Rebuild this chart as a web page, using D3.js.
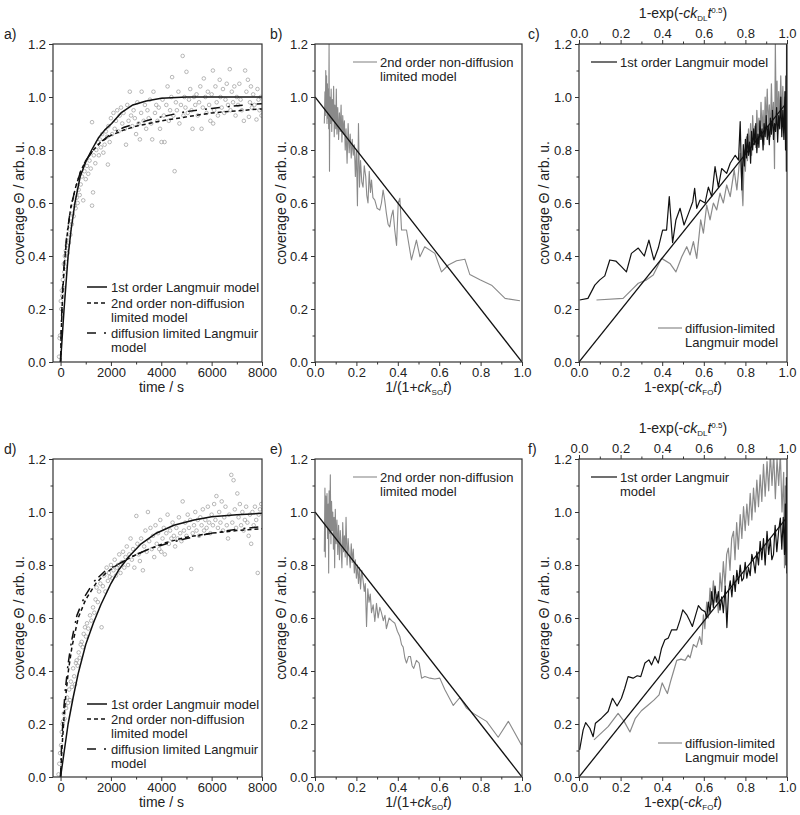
<!DOCTYPE html>
<html><head><meta charset="utf-8">
<script src="https://cdn.jsdelivr.net/npm/d3@7/dist/d3.min.js"></script>
<style>
body{margin:0;background:#fff}
text{font-family:"Liberation Sans",Arial,sans-serif;fill:#222}
</style>
</head><body>
<svg id="chart" width="800" height="815"></svg>
<script>
// ---------------- DATA ----------------
const timeTicks = [0, 2000, 4000, 6000, 8000];
const timeMinor = [1000, 3000, 5000, 7000];
const unitTicks = [0, 0.2, 0.4, 0.6, 0.8, 1.0];
const unitMinor = [0.1, 0.3, 0.5, 0.7, 0.9];
const coverageTicks = [0, 0.2, 0.4, 0.6, 0.8, 1.0, 1.2];
const coverageMinor = [0.1, 0.3, 0.5, 0.7, 0.9, 1.1];

// panel a: measured coverage (time s, theta)
const aScatter = [[-60,0.02],[-40,0.09],[-20,0.1],[10,0.23],[30,0.2],[50,0.27],[70,0.25],[90,0.31],[110,0.28],[130,0.37],[150,0.34],[170,0.4],[190,0.36],[210,0.42],[230,0.39],[250,0.44],[280,0.41],[300,0.47],[330,0.45],[360,0.5],[390,0.48],[420,0.53],[450,0.52],[480,0.56],[520,0.55],[560,0.59],[600,0.58],[640,0.62],[680,0.6],[720,0.65],[760,0.63],[800,0.67],[850,0.7],[900,0.61],[950,0.72],[1000,0.69],[1050,0.74],[1100,0.71],[1150,0.76],[1200,0.73],[1250,0.59],[1290,0.64],[1250,0.905],[1320,0.78],[1380,0.75],[1420,0.8],[1480,0.83],[1520,0.78],[1560,0.84],[1600,0.81],[1650,0.86],[1700,0.79],[1750,0.82],[1800,0.87],[1880,0.745],[1850,0.85],[1900,0.89],[1950,0.83],[2000,0.92],[2050,0.86],[2100,0.94],[2150,0.88],[2200,0.91],[2250,0.95],[2300,0.87],[2350,0.93],[2400,0.96],[2450,0.9],[2500,0.94],[2550,0.88],[2600,0.82],[2650,0.97],[2700,0.91],[2750,1.02],[2800,0.93],[2850,0.89],[2900,0.95],[2950,0.92],[3000,0.86],[3050,0.98],[3100,0.9],[3150,0.84],[3200,0.94],[3220,1.02],[3300,0.91],[3350,0.97],[3400,0.88],[3450,0.95],[3500,0.92],[3550,0.99],[3600,0.9],[3640,0.84],[3690,1.02],[3750,0.94],[3800,0.97],[3850,0.91],[3900,0.96],[3950,0.88],[4010,0.83],[4050,0.99],[4100,0.93],[4130,0.83],[4200,0.97],[4250,1.04],[4300,0.91],[4350,0.95],[4400,1.0],[4430,1.075],[4480,0.93],[4530,0.72],[4580,0.98],[4620,0.95],[4680,1.02],[4720,0.9],[4780,0.97],[4850,1.155],[4880,0.93],[4920,1.0],[4960,0.96],[5000,1.095],[5050,0.94],[5100,0.99],[5150,1.03],[5200,0.95],[5240,0.88],[5300,1.0],[5350,0.97],[5400,1.01],[5450,0.93],[5500,0.98],[5550,1.04],[5600,0.88],[5650,0.96],[5690,1.07],[5750,1.0],[5800,0.94],[5850,1.02],[5900,0.97],[5950,0.91],[6000,1.01],[6050,1.1],[6060,0.9],[6100,0.95],[6150,1.04],[6200,0.98],[6250,0.93],[6320,1.065],[6350,1.0],[6400,0.96],[6450,1.03],[6500,0.94],[6550,0.99],[6600,1.05],[6650,0.97],[6720,1.105],[6750,0.95],[6800,1.02],[6850,0.98],[6900,1.04],[6950,0.93],[7000,1.0],[7050,0.97],[7100,1.05],[7150,0.99],[7200,0.95],[7280,0.91],[7330,1.1],[7380,1.02],[7440,1.065],[7480,0.925],[7520,0.98],[7560,1.04],[7600,0.96],[7650,1.01],[7700,0.97],[7780,0.915],[7820,1.03],[7860,0.99],[7900,0.95],[7950,1.0],[7980,0.93]];
const aFirstOrder = [[0,0],[70,0.1],[140,0.2],[220,0.3],[300,0.4],[420,0.5],[570,0.6],[780,0.7],[1000,0.755],[1235,0.8],[1500,0.845],[1750,0.875],[2030,0.9],[2400,0.94],[2870,0.97],[3400,0.985],[4000,0.995],[5000,1.0],[8000,1.0]];
const aSecondOrder = [[0,0],[30,0.12],[80,0.25],[150,0.37],[250,0.47],[400,0.58],[600,0.66],[800,0.72],[1000,0.76],[1300,0.8],[1600,0.83],[2000,0.855],[2500,0.875],[3000,0.89],[4000,0.91],[5000,0.925],[6000,0.94],[7000,0.948],[8000,0.955]];
const aDiffusion = [[0,0],[30,0.14],[80,0.27],[150,0.38],[250,0.48],[400,0.58],[600,0.66],[800,0.72],[1000,0.76],[1300,0.8],[1600,0.83],[2000,0.86],[2500,0.885],[3000,0.9],[4000,0.925],[5000,0.945],[6000,0.957],[7000,0.967],[8000,0.975]];

// panel d
const dScatter = [[-80,0.01],[-50,0.05],[-20,0.09],[20,0.12],[47,0.17],[80,0.2],[100,0.21],[130,0.24],[160,0.22],[190,0.27],[220,0.26],[260,0.3],[300,0.28],[340,0.33],[375,0.29],[410,0.36],[450,0.34],[500,0.41],[540,0.38],[575,0.35],[610,0.43],[640,0.44],[680,0.42],[720,0.47],[760,0.45],[800,0.5],[840,0.51],[880,0.49],[920,0.54],[970,0.565],[1010,0.53],[1050,0.58],[1100,0.56],[1170,0.61],[1220,0.59],[1290,0.64],[1340,0.62],[1390,0.67],[1430,0.715],[1480,0.66],[1530,0.7],[1580,0.73],[1630,0.565],[1680,0.72],[1730,0.76],[1780,0.7],[1830,0.79],[1880,0.74],[1920,0.77],[1960,0.755],[2000,0.8],[2050,0.75],[2100,0.78],[2150,0.82],[2200,0.76],[2240,0.79],[2280,0.8],[2330,0.84],[2380,0.77],[2430,0.81],[2480,0.85],[2530,0.79],[2580,0.83],[2630,0.87],[2680,0.8],[2730,0.84],[2780,0.9],[2830,0.82],[2880,0.86],[2930,0.79],[3010,0.985],[3050,0.88],[3100,0.84],[3150,0.815],[3200,0.9],[3270,0.78],[3320,0.87],[3370,0.93],[3420,0.85],[3470,1.0],[3520,0.89],[3570,0.94],[3620,0.86],[3670,0.91],[3720,0.83],[3770,0.95],[3820,0.88],[3870,0.92],[3920,0.86],[3960,0.97],[4000,0.85],[4050,0.9],[4100,0.94],[4140,0.84],[4200,0.92],[4250,0.99],[4300,0.88],[4350,0.93],[4400,0.9],[4450,0.96],[4500,0.91],[4550,0.87],[4600,0.94],[4650,0.9],[4700,0.98],[4750,0.92],[4800,0.89],[4850,1.04],[4900,0.93],[4950,0.96],[5000,0.91],[5050,0.99],[5100,0.94],[5150,0.97],[5190,0.785],[5250,0.92],[5300,0.95],[5350,1.0],[5400,0.93],[5450,0.97],[5500,0.91],[5550,0.98],[5600,0.95],[5650,1.01],[5700,0.93],[5750,0.97],[5800,0.94],[5850,1.02],[5900,0.96],[5950,0.92],[6000,0.99],[6050,0.95],[6100,1.03],[6150,0.97],[6190,1.06],[6250,0.94],[6300,1.0],[6350,0.96],[6400,1.04],[6450,0.93],[6500,0.98],[6550,1.02],[6600,0.95],[6650,0.9],[6700,0.99],[6780,1.14],[6820,0.96],[6870,1.12],[6920,1.01],[6970,0.94],[7020,1.07],[7070,0.98],[7120,1.03],[7170,0.95],[7220,1.0],[7270,0.93],[7320,0.97],[7370,1.02],[7420,0.96],[7470,0.91],[7520,0.99],[7570,0.88],[7620,1.0],[7670,0.95],[7720,1.02],[7770,0.97],[7830,0.77],[7870,0.99],[7920,1.01],[7970,1.03]];
const dFirstOrder = [[0,0],[150,0.1],[300,0.2],[500,0.3],[700,0.39],[1000,0.5],[1300,0.58],[1600,0.65],[2000,0.73],[2300,0.78],[2700,0.83],[3200,0.88],[3800,0.92],[4500,0.95],[5300,0.97],[6000,0.982],[7000,0.99],[8000,0.995]];
const dSecondOrder = [[0,0],[50,0.1],[120,0.2],[200,0.3],[310,0.4],[450,0.49],[700,0.6],[1000,0.67],[1400,0.73],[1800,0.77],[2240,0.8],[2800,0.83],[3500,0.86],[4200,0.885],[5000,0.905],[6000,0.92],[7000,0.93],[8000,0.937]];
const dDiffusion = [[0,0],[40,0.12],[100,0.22],[180,0.32],[290,0.42],[430,0.51],[650,0.61],[950,0.68],[1350,0.74],[1800,0.78],[2240,0.8],[2800,0.83],[3500,0.86],[4200,0.88],[5000,0.9],[6000,0.92],[7000,0.935],[8000,0.945]];

// panel b / e : theta vs 1/(1+ck_SO t)
const bData = [[0.045,0.9],[0.048,1.02],[0.05,0.93],[0.052,1.1],[0.054,0.95],[0.056,1.08],[0.058,0.9],[0.06,1.05],[0.062,0.92],[0.064,1.03],[0.066,0.88],[0.068,1.2],[0.07,0.72],[0.072,1.0],[0.075,0.9],[0.078,1.03],[0.081,0.87],[0.084,0.99],[0.087,0.91],[0.09,1.04],[0.093,0.85],[0.096,0.97],[0.1,0.88],[0.103,1.03],[0.106,0.86],[0.11,0.96],[0.114,0.84],[0.118,0.94],[0.122,0.87],[0.126,0.97],[0.13,0.83],[0.134,0.93],[0.138,0.86],[0.142,0.91],[0.146,0.8],[0.15,0.88],[0.155,0.75],[0.16,0.9],[0.165,0.79],[0.17,0.86],[0.175,0.77],[0.18,0.84],[0.185,0.78],[0.19,0.82],[0.195,0.7],[0.2,0.8],[0.205,0.59],[0.21,0.9],[0.215,0.66],[0.22,0.76],[0.226,0.68],[0.232,0.66],[0.238,0.74],[0.245,0.7],[0.25,0.63],[0.256,0.6],[0.262,0.72],[0.268,0.64],[0.273,0.687],[0.28,0.62],[0.289,0.611],[0.3,0.58],[0.313,0.573],[0.321,0.6],[0.329,0.649],[0.337,0.61],[0.345,0.56],[0.353,0.52],[0.361,0.51],[0.369,0.55],[0.377,0.573],[0.385,0.5],[0.394,0.44],[0.402,0.6],[0.41,0.618],[0.418,0.498],[0.442,0.498],[0.466,0.385],[0.49,0.46],[0.507,0.397],[0.53,0.435],[0.579,0.41],[0.611,0.34],[0.644,0.366],[0.684,0.382],[0.724,0.388],[0.748,0.33],[0.797,0.31],[0.853,0.29],[0.918,0.24],[0.99,0.231]];
const bFit = [[0,1],[1,0]];
const eData = [[0.045,0.85],[0.048,1.09],[0.05,0.83],[0.052,1.06],[0.055,0.95],[0.058,1.07],[0.061,0.9],[0.064,1.03],[0.066,0.77],[0.068,1.08],[0.071,0.92],[0.074,1.14],[0.077,0.88],[0.08,1.04],[0.083,0.93],[0.086,1.0],[0.089,0.86],[0.092,0.98],[0.095,0.79],[0.098,1.01],[0.102,0.88],[0.106,0.97],[0.11,0.84],[0.114,0.95],[0.118,0.82],[0.122,0.93],[0.126,0.87],[0.13,0.79],[0.134,0.96],[0.138,0.85],[0.142,0.91],[0.146,0.83],[0.15,0.98],[0.155,0.8],[0.16,0.9],[0.165,0.84],[0.17,0.79],[0.175,0.88],[0.18,0.81],[0.185,0.86],[0.19,0.77],[0.195,0.82],[0.2,0.75],[0.205,0.8],[0.21,0.73],[0.215,0.79],[0.22,0.71],[0.226,0.78],[0.232,0.744],[0.238,0.7],[0.243,0.73],[0.249,0.568],[0.255,0.71],[0.261,0.66],[0.267,0.69],[0.273,0.62],[0.281,0.65],[0.289,0.587],[0.297,0.655],[0.305,0.6],[0.313,0.64],[0.321,0.62],[0.33,0.59],[0.338,0.61],[0.345,0.56],[0.358,0.6],[0.37,0.59],[0.386,0.58],[0.398,0.55],[0.41,0.53],[0.418,0.5],[0.426,0.49],[0.434,0.45],[0.442,0.43],[0.452,0.455],[0.461,0.455],[0.469,0.42],[0.477,0.41],[0.49,0.44],[0.503,0.43],[0.515,0.373],[0.531,0.379],[0.555,0.373],[0.579,0.37],[0.603,0.373],[0.627,0.33],[0.668,0.27],[0.7,0.3],[0.732,0.26],[0.765,0.24],[0.829,0.21],[0.885,0.15],[0.934,0.21],[0.998,0.12]];
const eFit = [[0,1],[1,0]];

// panel c / f : black = 1st order (bottom axis), gray = diffusion-limited (top axis)
const cFirst = [[0.003,0.234],[0.043,0.24],[0.076,0.29],[0.1,0.31],[0.124,0.325],[0.148,0.385],[0.177,0.381],[0.204,0.36],[0.228,0.34],[0.252,0.41],[0.285,0.43],[0.314,0.4],[0.336,0.46],[0.36,0.385],[0.381,0.43],[0.402,0.498],[0.421,0.498],[0.434,0.624],[0.45,0.45],[0.466,0.536],[0.486,0.58],[0.505,0.517],[0.526,0.56],[0.547,0.605],[0.556,0.655],[0.566,0.58],[0.582,0.611],[0.606,0.6],[0.622,0.66],[0.638,0.624],[0.654,0.737],[0.67,0.66],[0.686,0.73],[0.71,0.712],[0.727,0.75],[0.751,0.78],[0.767,0.762],[0.775,0.907],[0.783,0.649],[0.79,0.82],[0.795,0.74],[0.8,0.84],[0.805,0.77],[0.81,0.86],[0.815,0.78],[0.82,0.83],[0.825,0.75],[0.83,0.87],[0.835,0.8],[0.84,0.88],[0.845,0.82],[0.85,0.9],[0.855,0.79],[0.86,0.86],[0.865,0.81],[0.87,0.91],[0.875,0.84],[0.88,0.88],[0.885,0.8],[0.89,0.9],[0.895,0.85],[0.9,0.93],[0.905,0.84],[0.91,0.89],[0.915,0.82],[0.92,0.92],[0.925,0.86],[0.93,0.95],[0.935,0.84],[0.94,0.9],[0.945,0.87],[0.95,0.96],[0.955,0.83],[0.96,0.93],[0.965,0.88],[0.97,1.0],[0.975,0.85],[0.98,0.95],[0.985,0.84],[0.99,1.02],[0.993,0.8],[0.995,1.08],[0.997,0.72],[0.998,1.2],[0.999,0.85],[1.0,1.2],[1.0,0.72]];
const cDiffusion = [[0.084,0.234],[0.212,0.24],[0.253,0.272],[0.285,0.297],[0.325,0.31],[0.357,0.328],[0.397,0.391],[0.437,0.372],[0.466,0.34],[0.494,0.397],[0.518,0.435],[0.534,0.404],[0.55,0.454],[0.566,0.391],[0.585,0.536],[0.598,0.486],[0.614,0.592],[0.63,0.536],[0.646,0.6],[0.662,0.574],[0.678,0.637],[0.694,0.6],[0.71,0.668],[0.727,0.624],[0.746,0.725],[0.759,0.649],[0.775,0.787],[0.788,0.59],[0.795,0.8],[0.8,0.72],[0.805,0.85],[0.81,0.76],[0.815,0.88],[0.82,0.8],[0.825,0.9],[0.83,0.78],[0.835,0.93],[0.84,0.83],[0.845,0.89],[0.85,0.81],[0.855,0.95],[0.86,0.85],[0.865,0.92],[0.87,0.84],[0.875,0.98],[0.88,0.87],[0.885,0.95],[0.89,0.82],[0.895,1.0],[0.9,0.9],[0.905,1.03],[0.91,0.88],[0.915,0.97],[0.92,0.85],[0.925,1.05],[0.93,0.9],[0.935,0.98],[0.94,0.73],[0.944,1.2],[0.948,0.9],[0.952,1.06],[0.956,0.88],[0.96,1.02],[0.965,0.91],[0.97,1.08],[0.975,0.92],[0.98,1.04],[0.985,0.89],[0.99,1.0],[0.995,0.93]];
const cFit = [[0,0],[1,0.98]];
const fFirst = [[0.003,0.102],[0.02,0.178],[0.032,0.205],[0.052,0.184],[0.068,0.152],[0.079,0.203],[0.108,0.222],[0.14,0.247],[0.161,0.297],[0.183,0.268],[0.204,0.297],[0.22,0.335],[0.236,0.379],[0.26,0.373],[0.28,0.382],[0.297,0.379],[0.317,0.43],[0.336,0.442],[0.349,0.423],[0.365,0.455],[0.381,0.43],[0.397,0.486],[0.413,0.518],[0.429,0.524],[0.445,0.555],[0.47,0.555],[0.486,0.593],[0.499,0.631],[0.518,0.612],[0.53,0.593],[0.545,0.568],[0.561,0.612],[0.574,0.647],[0.59,0.631],[0.606,0.624],[0.614,0.6],[0.622,0.66],[0.63,0.62],[0.638,0.7],[0.646,0.64],[0.654,0.72],[0.662,0.66],[0.67,0.7],[0.678,0.63],[0.686,0.68],[0.694,0.62],[0.703,0.72],[0.711,0.564],[0.719,0.7],[0.727,0.74],[0.735,0.68],[0.743,0.76],[0.751,0.7],[0.759,0.78],[0.767,0.73],[0.775,0.8],[0.783,0.74],[0.791,0.75],[0.799,0.81],[0.807,0.75],[0.815,0.79],[0.823,0.76],[0.831,0.84],[0.839,0.813],[0.847,0.77],[0.855,0.85],[0.863,0.8],[0.871,0.889],[0.879,0.82],[0.887,0.9],[0.895,0.8],[0.904,0.927],[0.912,0.84],[0.92,0.9],[0.927,0.82],[0.935,0.839],[0.943,0.95],[0.951,0.85],[0.96,0.93],[0.968,0.977],[0.975,0.86],[0.982,0.98],[0.988,0.84],[0.992,1.03],[0.995,0.8],[0.997,1.13],[0.999,0.77],[1.0,1.05]];
const fDiffusion = [[0.072,0.14],[0.14,0.19],[0.188,0.24],[0.217,0.21],[0.245,0.17],[0.27,0.22],[0.3,0.25],[0.33,0.27],[0.36,0.29],[0.385,0.31],[0.4,0.355],[0.415,0.33],[0.425,0.315],[0.44,0.36],[0.455,0.4],[0.47,0.44],[0.49,0.445],[0.51,0.44],[0.525,0.46],[0.534,0.45],[0.55,0.5],[0.565,0.49],[0.58,0.53],[0.59,0.5],[0.598,0.612],[0.605,0.56],[0.614,0.66],[0.622,0.6],[0.63,0.713],[0.638,0.65],[0.646,0.74],[0.654,0.66],[0.662,0.688],[0.67,0.62],[0.678,0.77],[0.686,0.7],[0.694,0.813],[0.702,0.72],[0.71,0.84],[0.718,0.864],[0.726,0.78],[0.734,0.9],[0.743,0.927],[0.75,0.82],[0.758,0.96],[0.766,0.86],[0.775,0.99],[0.783,0.9],[0.791,1.02],[0.799,0.93],[0.807,1.03],[0.815,0.95],[0.823,1.07],[0.831,0.97],[0.839,1.09],[0.847,1.0],[0.855,1.12],[0.863,1.02],[0.871,1.14],[0.879,1.04],[0.887,1.18],[0.895,1.06],[0.904,1.19],[0.912,1.08],[0.92,1.22],[0.928,1.1],[0.936,1.22],[0.944,1.05],[0.952,1.2],[0.96,1.1],[0.968,1.22],[0.976,1.0],[0.984,1.15],[0.988,0.79],[0.992,1.1]];
const fFit = [[0,0],[1,0.98]];

// ---------------- DRAW ----------------
const svg = d3.select("#chart");
const FS = 13;
const GRAY = "#8a8a8a";
const AX = "#333";
const rows = [{t:44,b:362},{t:459,b:777}];
const cols = [{l:53,r:262},{l:315,r:522},{l:579,r:787}];
let clipId = 0;

function frame(g, x, y, opts){
  const [l,r] = x.range(), [b,t] = y.range();
  const ya = g.append("g").attr("transform",`translate(${l},0)`)
    .call(d3.axisLeft(y).tickValues(coverageTicks).tickSize(4).tickPadding(3).tickFormat(d3.format(".1f")));
  const ym = g.append("g").attr("transform",`translate(${l},0)`)
    .call(d3.axisLeft(y).tickValues(coverageMinor).tickSize(2.5).tickFormat(""));
  const xa = g.append("g").attr("transform",`translate(0,${b})`)
    .call(d3.axisBottom(x).tickValues(opts.major).tickSize(4).tickPadding(2).tickFormat(opts.fmt));
  const xm = g.append("g").attr("transform",`translate(0,${b})`)
    .call(d3.axisBottom(x).tickValues(opts.minor).tickSize(2.5).tickFormat(""));
  const axes=[ya,ym,xa,xm];
  if(opts.top){
    const x2 = d3.scaleLinear().domain(opts.top.domain).range([l,r]);
    const ta = g.append("g").attr("transform",`translate(0,${t})`)
      .call(d3.axisTop(x2).tickValues(opts.top.major).tickSize(4).tickPadding(2).tickFormat(opts.fmt));
    const tm = g.append("g").attr("transform",`translate(0,${t})`)
      .call(d3.axisTop(x2).tickValues(opts.top.minor).tickSize(2.5).tickFormat(""));
    axes.push(ta,tm);
  }
  axes.forEach(a=>{
    a.select(".domain").remove();
    a.selectAll("line").attr("stroke",AX).attr("stroke-width",1);
    a.selectAll("text").attr("font-size",FS).attr("fill","#222").attr("font-family",'"Liberation Sans",Arial,sans-serif');
  });
  g.append("rect").attr("x",l).attr("y",t).attr("width",r-l).attr("height",b-t)
    .attr("fill","none").attr("stroke",AX).attr("stroke-width",1.2);
}

function yTitle(g, xc, row){
  g.append("text").attr("transform",`translate(${xc},${(row.t+row.b)/2}) rotate(-90)`)
    .attr("text-anchor","middle").attr("dy","0.35em").attr("font-size",14)
    .text("coverage \u0398 / arb. u.");
}
function label(g, x, y, s){ g.append("text").attr("x",x).attr("y",y).attr("font-size",14).text(s); }

function makeClip(x,y){
  const id = "clip"+(clipId++);
  const [l,r]=x.range(), [b,t]=y.range();
  svg.append("clipPath").attr("id",id).append("rect").attr("x",l).attr("y",t).attr("width",r-l).attr("height",b-t);
  return `url(#${id})`;
}
function drawLine(g, data, x, y, clip, stroke, width, dash){
  const line = d3.line().x(d=>x(d[0])).y(d=>y(d[1]));
  g.append("path").datum(data).attr("d",line).attr("fill","none")
    .attr("stroke",stroke).attr("stroke-width",width)
    .attr("stroke-dasharray",dash||null).attr("clip-path",clip).attr("stroke-linejoin","round");
}
function legendLine(g,x1,x2,y,stroke,width,dash){
  g.append("line").attr("x1",x1).attr("x2",x2).attr("y1",y).attr("y2",y)
    .attr("stroke",stroke).attr("stroke-width",width).attr("stroke-dasharray",dash||null);
}
function legendText(g,x,y,s){
  g.append("text").attr("x",x).attr("y",y).attr("dy","0.35em").attr("font-size",FS).text(s);
}

function xTitleSO(g, xc, y){
  const t = g.append("text").attr("x",xc).attr("y",y).attr("text-anchor","middle").attr("font-size",14);
  t.append("tspan").text("1/(1+");
  t.append("tspan").attr("font-style","italic").text("ck");
  t.append("tspan").attr("font-size",8).attr("dy",3).text("SO");
  t.append("tspan").attr("font-style","italic").attr("dy",-3).text("t");
  t.append("tspan").text(")");
}
function xTitleFO(g, xc, y){
  const t = g.append("text").attr("x",xc).attr("y",y).attr("text-anchor","middle").attr("font-size",14);
  t.append("tspan").text("1-exp(-");
  t.append("tspan").attr("font-style","italic").text("ck");
  t.append("tspan").attr("font-size",8).attr("dy",3).text("FO");
  t.append("tspan").attr("font-style","italic").attr("dy",-3).text("t");
  t.append("tspan").text(")");
}
function xTitleDL(g, xc, y){
  const t = g.append("text").attr("x",xc).attr("y",y).attr("text-anchor","middle").attr("font-size",14);
  t.append("tspan").text("1-exp(-");
  t.append("tspan").attr("font-style","italic").text("ck");
  t.append("tspan").attr("font-size",8).attr("dy",3).text("DL");
  t.append("tspan").attr("font-style","italic").attr("dy",-3).text("t");
  t.append("tspan").attr("font-size",8).attr("dy",-5).text("0.5");
  t.append("tspan").attr("dy",5).text(")");
}

function timePanel(row, scatter, first, second, diff, lab, legY){
  const c = cols[0];
  const x = d3.scaleLinear().domain([-300,8000]).range([c.l,c.r]);
  const y = d3.scaleLinear().domain([0,1.2]).range([row.b,row.t]);
  const g = svg.append("g");
  const clip = makeClip(x,y);
  g.append("g").attr("clip-path",clip).selectAll("circle").data(scatter).join("circle")
    .attr("cx",d=>x(d[0])).attr("cy",d=>y(d[1])).attr("r",1.8)
    .attr("fill","none").attr("stroke","#9a9a9a").attr("stroke-width",0.7);
  drawLine(g, first, x, y, clip, "#111", 1.5);
  drawLine(g, second, x, y, clip, "#111", 1.5, "4,3");
  drawLine(g, diff, x, y, clip, "#111", 1.5, "9,8,2,4");
  frame(g, x, y, {major:timeTicks, minor:timeMinor, fmt:d3.format("d")});
  yTitle(g, 19, row);
  g.append("text").attr("x",(c.l+c.r)/2+4).attr("y",row.b+30).attr("text-anchor","middle").attr("font-size",14).text("time / s");
  label(g, 4, row.t-5, lab);
  legendLine(g,87,107,legY[0],"#111",1.5);
  legendText(g,111,legY[0],"1st order Langmuir model");
  legendLine(g,87,107,legY[1],"#111",1.5,"4,3");
  legendText(g,111,legY[1],"2nd order non-diffusion");
  legendText(g,111,legY[2],"limited model");
  legendLine(g,87,107,legY[3],"#111",1.5,"9,8,2,4");
  legendText(g,111,legY[3],"diffusion limited Langmuir");
  legendText(g,111,legY[4],"model");
}
timePanel(rows[0], aScatter, aFirstOrder, aSecondOrder, aDiffusion, "a)", [287,303,317,333,347]);
timePanel(rows[1], dScatter, dFirstOrder, dSecondOrder, dDiffusion, "d)", [704,719,733,749,763]);

function soPanel(row, data, fit, lab){
  const c = cols[1];
  const x = d3.scaleLinear().domain([0,1]).range([c.l,c.r]);
  const y = d3.scaleLinear().domain([0,1.2]).range([row.b,row.t]);
  const g = svg.append("g");
  const clip = makeClip(x,y);
  drawLine(g, data, x, y, clip, GRAY, 1.1);
  drawLine(g, fit, x, y, clip, "#111", 1.3);
  frame(g, x, y, {major:unitTicks, minor:unitMinor, fmt:d3.format(".1f")});
  yTitle(g, 281, row);
  xTitleSO(g, (c.l+c.r)/2, row.b+30);
  label(g, 270, row.t-5, lab);
  legendLine(g,353,377,row.t+18,GRAY,1.1);
  legendText(g,380,row.t+18,"2nd order non-diffusion");
  legendText(g,380,row.t+32,"limited model");
}
soPanel(rows[0], bData, bFit, "b)");
soPanel(rows[1], eData, eFit, "e)");

function foPanel(row, first, diff, fit, lab, twoLine){
  const c = cols[2];
  const x = d3.scaleLinear().domain([0,1]).range([c.l,c.r]);
  const xTop = d3.scaleLinear().domain([0,1]).range([c.l,c.r]);
  const y = d3.scaleLinear().domain([0,1.2]).range([row.b,row.t]);
  const g = svg.append("g");
  const clip = makeClip(x,y);
  drawLine(g, diff, xTop, y, clip, GRAY, 1.2);
  drawLine(g, first, x, y, clip, "#111", 1.2);
  drawLine(g, fit, x, y, clip, "#111", 1.3);
  frame(g, x, y, {major:unitTicks, minor:unitMinor, fmt:d3.format(".1f"),
    top:{domain:[0,1], major:unitTicks, minor:unitMinor}});
  yTitle(g, 544, row);
  xTitleFO(g, (c.l+c.r)/2, row.b+30);
  xTitleDL(g, (c.l+c.r)/2, row.t-26);
  label(g, 528, row.t-5, lab);
  legendLine(g,591,617,row.t+18,"#111",1.2);
  if(twoLine){
    legendText(g,620,row.t+18,"1st order Langmuir");
    legendText(g,620,row.t+32,"model");
  } else {
    legendText(g,620,row.t+18,"1st order Langmuir model");
  }
  legendLine(g,658,682,row.b-34,GRAY,1.2);
  legendText(g,685,row.b-34,"diffusion-limited");
  legendText(g,685,row.b-20,"Langmuir model");
}
foPanel(rows[0], cFirst, cDiffusion, cFit, "c)", false);
foPanel(rows[1], fFirst, fDiffusion, fFit, "f)", true);
</script>
</body></html>
